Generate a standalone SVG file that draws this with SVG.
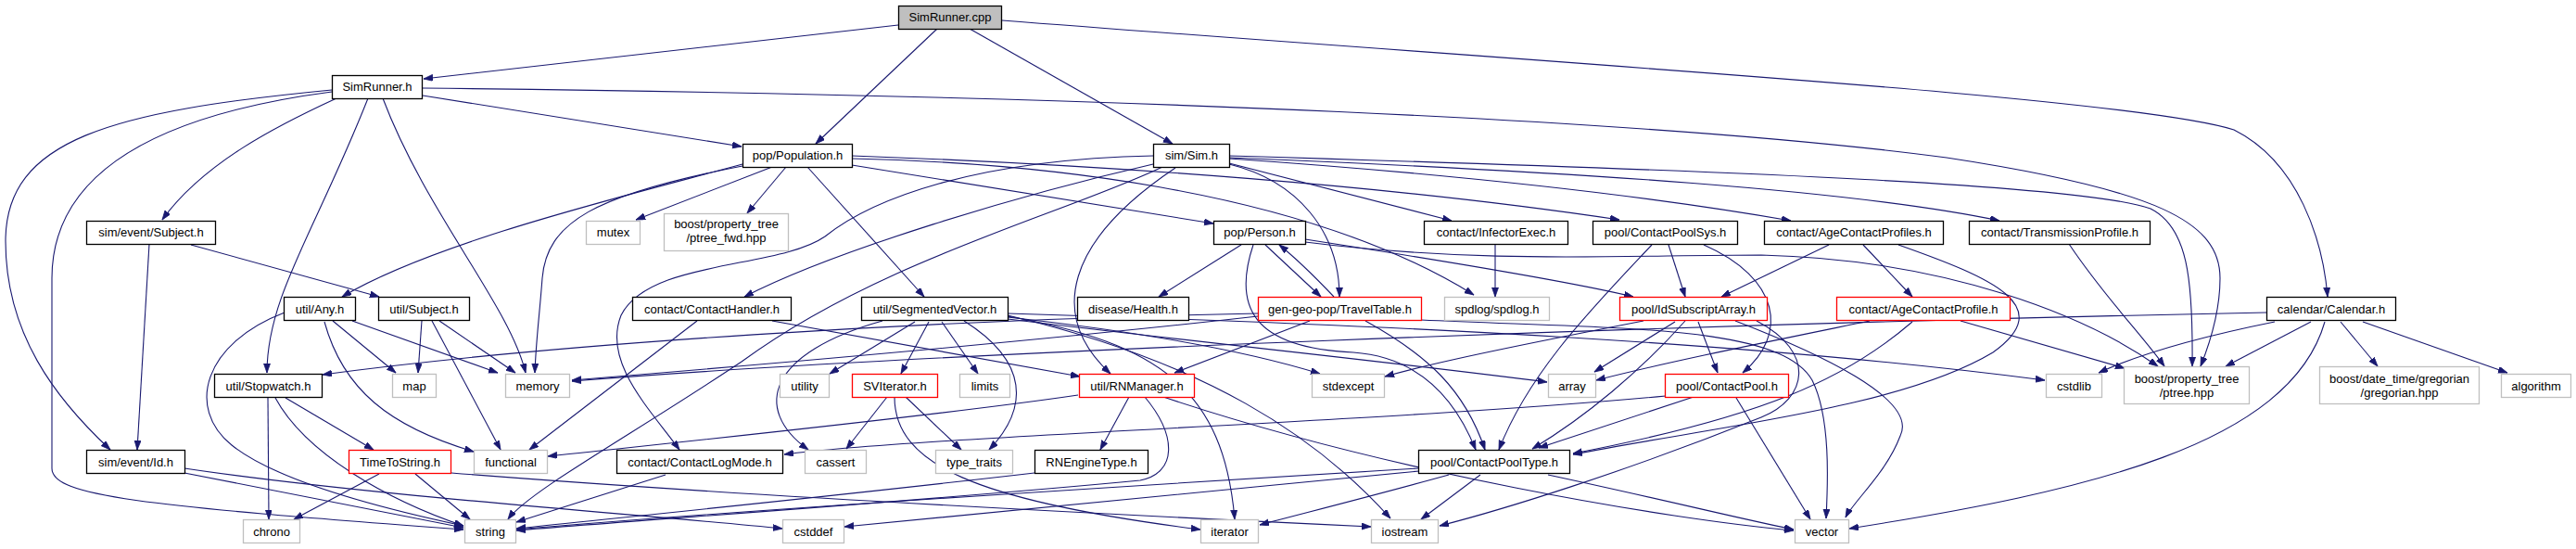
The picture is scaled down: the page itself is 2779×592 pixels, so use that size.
<svg xmlns="http://www.w3.org/2000/svg" width="2779" height="592" viewBox="0 0 2779 592">
<style>
.n rect{fill:#fff;stroke:#000;stroke-width:1.3}
.g rect{fill:#fff;stroke:#bfbfbf;stroke-width:1.3}
.r rect{fill:#fff;stroke:#ff0000;stroke-width:1.3}
.root rect{fill:#bfbfbf;stroke:#000;stroke-width:1.3}
text{font-family:"Liberation Sans",Arial,sans-serif;font-size:13px;fill:#000;text-anchor:middle}
#edges path{fill:none;stroke:#191970;stroke-width:1.1;marker-end:url(#ah)}
</style>
<defs>
<marker id="ah" markerUnits="userSpaceOnUse" markerWidth="11" markerHeight="8" refX="10" refY="3.5" orient="auto">
<path d="M0,0 L10,3.5 L0,7 Z" fill="#191970" stroke="#191970" stroke-width="0.8"/>
</marker>
</defs>
<rect width="2779" height="592" fill="#fff"/>
<g id="edges">
<path d="M969,27 L457,85"/>
<path d="M1011,31 L880,155"/>
<path d="M1046,31 L1265,155"/>
<path d="M1081,22 C1700,70 2300,105 2410,140 C2480,175 2506,260 2511,320"/>
<path d="M456,103 L800,158"/>
<path d="M456,95 C1200,103 1800,130 2100,170 C2330,205 2395,240 2395,300 C2395,340 2380,380 2374,395"/>
<path d="M363,106 C300,135 220,175 175,237"/>
<path d="M358,97 C120,120 6,150 6,260 C6,360 60,430 119,485"/>
<path d="M358,99 C160,125 56,190 56,300 L56,505 C56,535 150,545 500,571"/>
<path d="M397,106 C340,250 288,320 288,402"/>
<path d="M413,106 C460,230 550,330 567,402"/>
<path d="M161,263 L148,485"/>
<path d="M206,264 L409,320"/>
<path d="M833,180 L686,237"/>
<path d="M848,180 L806,230"/>
<path d="M801,177 C680,210 470,260 369,320"/>
<path d="M801,179 C640,210 590,240 585,300 C582,340 578,370 577,402"/>
<path d="M871,180 L997,320"/>
<path d="M919,178 L1309,241"/>
<path d="M919,168 C1200,178 1500,200 1747,237"/>
<path d="M919,171 C1100,175 1400,200 1590,318"/>
<path d="M1244,168 C1050,172 940,215 890,255 C840,290 700,280 670,340 C650,390 700,440 733,485"/>
<path d="M1244,177 C1100,210 900,270 803,320"/>
<path d="M1254,180 C1150,230 950,280 800,390 C680,470 570,530 548,560"/>
<path d="M1268,181 C1150,260 1130,340 1198,403"/>
<path d="M1326,177 C1400,195 1445,250 1445,320"/>
<path d="M1326,176 L1566,238"/>
<path d="M1326,171 C1600,190 1800,215 1932,238"/>
<path d="M1326,170 C1700,185 2000,205 2157,238"/>
<path d="M1326,168 C1900,185 2250,200 2320,225 C2360,245 2366,300 2365,395"/>
<path d="M1339,264 L1250,320"/>
<path d="M1365,264 L1425,320"/>
<path d="M1352,264 C1330,330 1350,375 1460,380 C1530,385 1570,430 1592,485"/>
<path d="M1408,258 C1550,280 1700,305 1762,320"/>
<path d="M1408,261 C1600,285 1750,275 1900,275 C2100,280 2250,340 2328,395"/>
<path d="M1439,320 C1420,300 1400,280 1380,264"/>
<path d="M1613,264 L1613,320"/>
<path d="M1800,264 L1818,320"/>
<path d="M1782,264 C1720,330 1650,400 1617,485"/>
<path d="M1838,264 C1920,300 1930,360 1880,402"/>
<path d="M1973,264 L1857,320"/>
<path d="M2010,264 L2063,320"/>
<path d="M2048,264 C2150,300 2220,330 2150,380 C2050,440 1850,460 1697,490"/>
<path d="M2017,346 C1900,370 1800,390 1722,410"/>
<path d="M2063,347 C1990,410 1900,450 1697,489"/>
<path d="M2115,346 L2292,397"/>
<path d="M2232,263 C2270,320 2310,360 2335,395"/>
<path d="M2445,337 C1800,350 1000,380 617,411"/>
<path d="M2454,347 C2340,370 2290,390 2264,402"/>
<path d="M2493,347 L2401,395"/>
<path d="M2508,347 C2470,480 2250,530 1995,570"/>
<path d="M2525,347 L2565,395"/>
<path d="M2549,347 L2705,402"/>
<path d="M307,337 C220,370 200,440 250,480 C300,520 420,550 500,567"/>
<path d="M359,346 L427,402"/>
<path d="M380,346 L537,402"/>
<path d="M350,347 C370,420 420,460 511,487"/>
<path d="M455,346 L451,402"/>
<path d="M474,346 L556,402"/>
<path d="M466,346 L540,485"/>
<path d="M752,346 L571,485"/>
<path d="M833,346 L1165,406"/>
<path d="M987,347 L895,403"/>
<path d="M1002,347 L972,403"/>
<path d="M1016,347 L1055,403"/>
<path d="M1040,346 C1110,390 1110,440 1067,485"/>
<path d="M952,346 C830,380 810,440 872,485"/>
<path d="M1087,342 C1250,360 1350,380 1424,403"/>
<path d="M1087,344 C1300,370 1500,390 1669,412"/>
<path d="M1087,341 C1250,370 1320,420 1332,560"/>
<path d="M1087,340 C1300,390 1420,470 1500,559"/>
<path d="M1087,338 C1500,350 1900,370 2206,410"/>
<path d="M1413,346 L1267,402"/>
<path d="M1473,346 C1540,383 1580,420 1602,485"/>
<path d="M1357,341 C1100,370 800,395 617,410"/>
<path d="M1357,338 C1000,345 600,370 348,404"/>
<path d="M1533,345 C1750,355 1920,350 1955,410 C1975,450 1972,520 1970,559"/>
<path d="M1773,346 C1650,370 1550,390 1494,406"/>
<path d="M1807,347 L1720,401"/>
<path d="M1818,346 C1770,400 1710,450 1653,484"/>
<path d="M1832,347 L1853,402"/>
<path d="M1872,346 C1960,380 2070,430 2050,470 C2035,510 2000,540 1991,558"/>
<path d="M1895,346 C1960,380 1950,430 1900,450 C1750,510 1620,550 1553,567"/>
<path d="M1827,428 L1660,483"/>
<path d="M1797,427 C1500,455 1000,470 846,490"/>
<path d="M1873,429 L1953,560"/>
<path d="M1218,428 L1187,485"/>
<path d="M1235,428 C1270,470 1270,510 1230,518 C1000,540 700,560 557,572"/>
<path d="M1255,428 C1500,510 1800,560 1935,572"/>
<path d="M1163,426 C1000,450 700,480 591,492"/>
<path d="M1116,510 C900,535 700,555 557,570"/>
<path d="M957,428 L913,484"/>
<path d="M977,428 L1037,485"/>
<path d="M965,428 C965,500 1050,540 1295,571"/>
<path d="M199,510 L500,569"/>
<path d="M199,505 C400,535 700,555 844,570"/>
<path d="M409,511 L317,560"/>
<path d="M448,511 L507,560"/>
<path d="M487,510 C800,535 1200,555 1479,568"/>
<path d="M289,429 L290,560"/>
<path d="M297,429 C330,490 420,540 500,567"/>
<path d="M308,429 L403,485"/>
<path d="M718,512 L557,563"/>
<path d="M1531,505 C1200,525 800,550 557,571"/>
<path d="M1531,508 C1300,530 1000,560 911,568"/>
<path d="M1563,512 C1480,535 1400,555 1359,566"/>
<path d="M1597,512 L1533,560"/>
<path d="M1670,512 C1800,540 1880,560 1935,571"/>
</g>
<g id="n0" class="root"><rect x="969.5" y="6.5" width="111" height="25"/><text x="1025" y="23">SimRunner.cpp</text></g>
<g id="n1" class="n"><rect x="358.5" y="81.5" width="97" height="25"/><text x="407" y="98">SimRunner.h</text></g>
<g id="n2" class="n"><rect x="801.5" y="155.5" width="118" height="25"/><text x="860.5" y="172">pop/Population.h</text></g>
<g id="n3" class="n"><rect x="1244.5" y="155.5" width="82" height="25"/><text x="1285.5" y="172">sim/Sim.h</text></g>
<g id="n4" class="n"><rect x="93.5" y="238.5" width="139" height="25"/><text x="163" y="255">sim/event/Subject.h</text></g>
<g id="n5" class="g"><rect x="632.5" y="238.5" width="58" height="25"/><text x="661.5" y="255">mutex</text></g>
<g id="n6" class="g"><rect x="716.5" y="230.5" width="134" height="40"/><text x="783.5" y="246">boost/property_tree</text><text x="783.5" y="260.5">/ptree_fwd.hpp</text></g>
<g id="n7" class="n"><rect x="1309.5" y="238.5" width="99" height="25"/><text x="1359" y="255">pop/Person.h</text></g>
<g id="n8" class="n"><rect x="1536.5" y="238.5" width="155" height="25"/><text x="1614" y="255">contact/InfectorExec.h</text></g>
<g id="n9" class="n"><rect x="1718.5" y="238.5" width="156" height="25"/><text x="1796.5" y="255">pool/ContactPoolSys.h</text></g>
<g id="n10" class="n"><rect x="1903.5" y="238.5" width="193" height="25"/><text x="2000" y="255">contact/AgeContactProfiles.h</text></g>
<g id="n11" class="n"><rect x="2124.5" y="238.5" width="195" height="25"/><text x="2222" y="255">contact/TransmissionProfile.h</text></g>
<g id="n12" class="n"><rect x="306.5" y="320.5" width="77" height="25"/><text x="345" y="337.5">util/Any.h</text></g>
<g id="n13" class="n"><rect x="408.5" y="320.5" width="98" height="25"/><text x="457.5" y="337.5">util/Subject.h</text></g>
<g id="n14" class="n"><rect x="682.5" y="320.5" width="171" height="25"/><text x="768" y="337.5">contact/ContactHandler.h</text></g>
<g id="n15" class="n"><rect x="929.5" y="320.5" width="158" height="25"/><text x="1008.5" y="337.5">util/SegmentedVector.h</text></g>
<g id="n16" class="n"><rect x="1162.5" y="320.5" width="120" height="25"/><text x="1222.5" y="337.5">disease/Health.h</text></g>
<g id="n17" class="r"><rect x="1357.5" y="320.5" width="176" height="25"/><text x="1445.5" y="337.5">gen-geo-pop/TravelTable.h</text></g>
<g id="n18" class="g"><rect x="1558.5" y="320.5" width="113" height="25"/><text x="1615" y="337.5">spdlog/spdlog.h</text></g>
<g id="n19" class="r"><rect x="1747.5" y="320.5" width="159" height="25"/><text x="1827" y="337.5">pool/IdSubscriptArray.h</text></g>
<g id="n20" class="r"><rect x="1981.5" y="320.5" width="187" height="25"/><text x="2075" y="337.5">contact/AgeContactProfile.h</text></g>
<g id="n21" class="n"><rect x="2445.5" y="320.5" width="139" height="25"/><text x="2515" y="337.5">calendar/Calendar.h</text></g>
<g id="n22" class="n"><rect x="231.5" y="403.5" width="116" height="25"/><text x="289.5" y="420.5">util/Stopwatch.h</text></g>
<g id="n23" class="g"><rect x="423.5" y="403.5" width="47" height="25"/><text x="447" y="420.5">map</text></g>
<g id="n24" class="g"><rect x="545.5" y="403.5" width="69" height="25"/><text x="580" y="420.5">memory</text></g>
<g id="n25" class="g"><rect x="841.5" y="403.5" width="53" height="25"/><text x="868" y="420.5">utility</text></g>
<g id="n26" class="r"><rect x="919.5" y="403.5" width="92" height="25"/><text x="965.5" y="420.5">SVIterator.h</text></g>
<g id="n27" class="g"><rect x="1035.5" y="403.5" width="54" height="25"/><text x="1062.5" y="420.5">limits</text></g>
<g id="n28" class="r"><rect x="1164.5" y="403.5" width="124" height="25"/><text x="1226.5" y="420.5">util/RNManager.h</text></g>
<g id="n29" class="g"><rect x="1415.5" y="403.5" width="78" height="25"/><text x="1454.5" y="420.5">stdexcept</text></g>
<g id="n30" class="g"><rect x="1670.5" y="403.5" width="51" height="25"/><text x="1696" y="420.5">array</text></g>
<g id="n31" class="r"><rect x="1796.5" y="403.5" width="133" height="25"/><text x="1863" y="420.5">pool/ContactPool.h</text></g>
<g id="n32" class="g"><rect x="2207.5" y="403.5" width="60" height="25"/><text x="2237.5" y="420.5">cstdlib</text></g>
<g id="n33" class="g"><rect x="2291.5" y="395.5" width="135" height="40"/><text x="2359" y="413">boost/property_tree</text><text x="2359" y="427.5">/ptree.hpp</text></g>
<g id="n34" class="g"><rect x="2502.5" y="395.5" width="172" height="40"/><text x="2588.5" y="413">boost/date_time/gregorian</text><text x="2588.5" y="427.5">/gregorian.hpp</text></g>
<g id="n35" class="g"><rect x="2698.5" y="403.5" width="75" height="25"/><text x="2736" y="420.5">algorithm</text></g>
<g id="n36" class="n"><rect x="93.5" y="485.5" width="106" height="25"/><text x="146.5" y="502.5">sim/event/Id.h</text></g>
<g id="n37" class="r"><rect x="376.5" y="485.5" width="110" height="25"/><text x="431.5" y="502.5">TimeToString.h</text></g>
<g id="n38" class="g"><rect x="511.5" y="485.5" width="79" height="25"/><text x="551" y="502.5">functional</text></g>
<g id="n39" class="n"><rect x="665.5" y="485.5" width="179" height="25"/><text x="755" y="502.5">contact/ContactLogMode.h</text></g>
<g id="n40" class="g"><rect x="868.5" y="485.5" width="66" height="25"/><text x="901.5" y="502.5">cassert</text></g>
<g id="n41" class="g"><rect x="1009.5" y="485.5" width="83" height="25"/><text x="1051" y="502.5">type_traits</text></g>
<g id="n42" class="n"><rect x="1116.5" y="485.5" width="122" height="25"/><text x="1177.5" y="502.5">RNEngineType.h</text></g>
<g id="n43" class="n"><rect x="1530.5" y="485.5" width="163" height="25"/><text x="1612" y="502.5">pool/ContactPoolType.h</text></g>
<g id="n44" class="g"><rect x="262.5" y="560.5" width="61" height="25"/><text x="293" y="577.5">chrono</text></g>
<g id="n45" class="g"><rect x="501.5" y="560.5" width="55" height="25"/><text x="529" y="577.5">string</text></g>
<g id="n46" class="g"><rect x="844.5" y="560.5" width="66" height="25"/><text x="877.5" y="577.5">cstddef</text></g>
<g id="n47" class="g"><rect x="1295.5" y="560.5" width="62" height="25"/><text x="1326.5" y="577.5">iterator</text></g>
<g id="n48" class="g"><rect x="1479.5" y="560.5" width="72" height="25"/><text x="1515.5" y="577.5">iostream</text></g>
<g id="n49" class="g"><rect x="1936.5" y="560.5" width="58" height="25"/><text x="1965.5" y="577.5">vector</text></g>
</svg>
